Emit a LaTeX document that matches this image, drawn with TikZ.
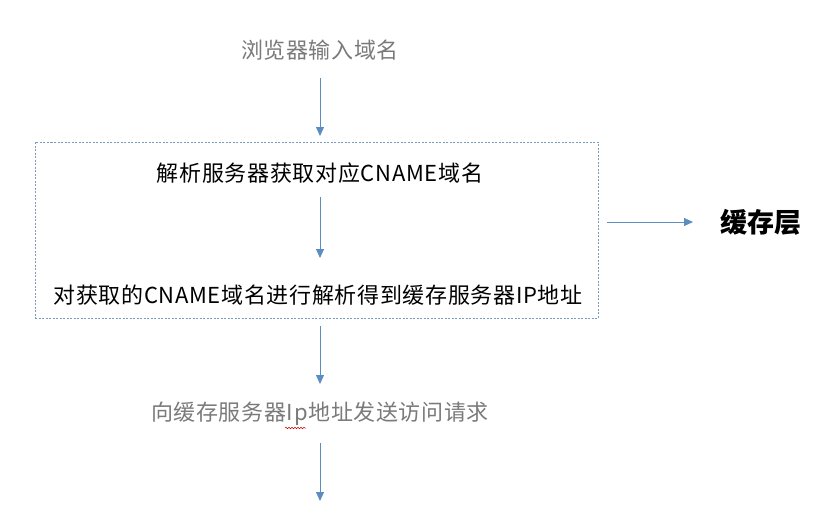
\documentclass[tikz,border=0pt]{standalone}
\usepackage{fontspec}
\setmainfont{Noto Sans CJK SC}
\newfontfamily\spaced[LetterSpace=3]{Noto Sans CJK SC}
\usetikzlibrary{arrows.meta,decorations.pathmorphing}
\definecolor{arrowblue}{HTML}{5B8CC2}
\definecolor{boxblue}{HTML}{7C9CBE}
\definecolor{graytext}{HTML}{7A7A7A}
\tikzset{
  flow/.style={draw=arrowblue, line width=0.9pt, -{Triangle[width=8pt,length=9pt]}},
  graylabel/.style={text=graytext, font=\spaced\fontsize{22}{24}\selectfont, inner sep=0pt},
  blacklabel/.style={text=black, font=\spaced\fontsize{22}{24}\selectfont, inner sep=0pt},
  biglabel/.style={text=black, font=\fontsize{27}{30}\selectfont\bfseries, inner sep=0pt},
  groupbox/.style={draw=boxblue, dashed, dash pattern=on 2pt off 1.5pt, line width=0.7pt}
}
\begin{document}
\begin{tikzpicture}[x=1pt,y=-1pt]
\useasboundingbox (0,0) rectangle (823,512);
\node[groupbox, minimum width=563pt, minimum height=176pt, inner sep=0pt] (box) at (316.5,230) {};
\node[graylabel] (t1) at (320,50) {浏览器输入域名};
\node[blacklabel] (t2) at (320,173) {解析服务器获取对应CNAME域名};
\node[blacklabel] (t3) at (318,295) {对获取的CNAME域名进行解析得到缓存服务器IP地址};
\node[biglabel] (t4) at (761,222) {缓存层};
\node[graylabel] (t5) at (320,414) {向缓存服务器Ip地址发送访问请求};
\coordinate (a1s) at (320,78);
\coordinate (a1e) at (320,136);
\coordinate (a2s) at (320,197);
\coordinate (a2e) at (320,258);
\coordinate (a3s) at (607,222);
\coordinate (a3e) at (693,222);
\coordinate (a4s) at (320,326);
\coordinate (a4e) at (320,384);
\coordinate (a5s) at (320,443);
\coordinate (a5e) at (320,501);
\coordinate (w1) at (285,428);
\coordinate (w2) at (306,428);
\draw[flow] (a1s) -- (a1e);
\draw[flow] (a2s) -- (a2e);
\draw[flow] (a3s) -- (a3e);
\draw[flow] (a4s) -- (a4e);
\draw[flow] (a5s) -- (a5e);
\draw[red!80!black, line width=0.5pt, decorate, decoration={snake, amplitude=0.8pt, segment length=3pt}] (w1) -- (w2);
\end{tikzpicture}
\end{document}
